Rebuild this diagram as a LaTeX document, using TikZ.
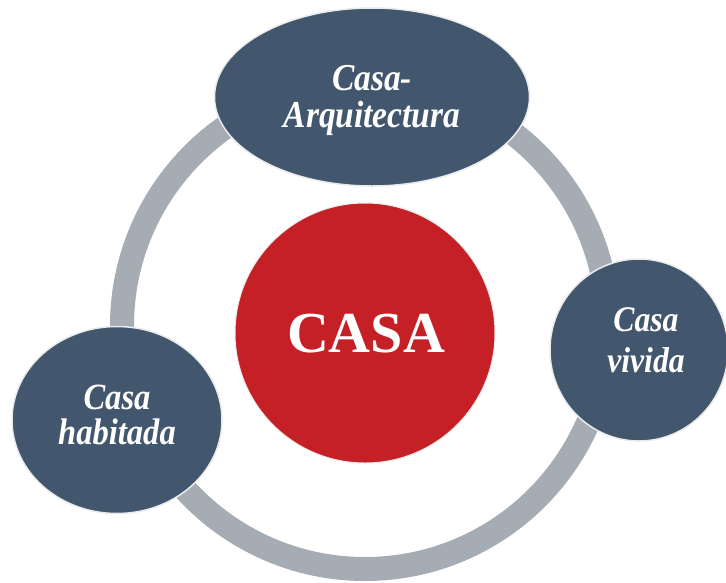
\documentclass[tikz,border=0pt]{standalone}
\usepackage{fontspec}
\setmainfont{Liberation Serif}
\newfontfamily\labfont[FakeStretch=0.88]{Liberation Serif}
\usetikzlibrary{shapes.geometric}
\definecolor{slate}{RGB}{66,87,110}
\definecolor{casared}{RGB}{196,32,38}
\definecolor{ringgrey}{RGB}{165,172,180}
\tikzset{
  satellite/.style={ellipse, fill=slate, draw=white!92!black, line width=1.5pt, inner sep=0pt},
  centre/.style={circle, fill=casared, draw=white!92!black, line width=1pt, inner sep=0pt},
  labeltext/.style={text=white, align=center, font=\labfont\bfseries\itshape},
  ringline/.style={draw=ringgrey, line width=24pt}
}
\begin{document}
\begin{tikzpicture}[x=1pt,y=-1pt]
\useasboundingbox (0,0) rectangle (726,582);
\fill[white] (0,0) rectangle (726,582);
% ring
\coordinate (ringc) at (365,326);
\draw[ringline] (ringc) circle[radius=243];
% centre
\node[centre, minimum size=260pt] (casa) at (365,333) {};
\node[text=white, font=\bfseries\fontsize{58}{60}\selectfont, anchor=base] (casaT) at (366,352) {CASA};
% satellites
\node[satellite, minimum width=315pt, minimum height=178pt] (arq) at (372,97) {};
\node[labeltext, font=\labfont\bfseries\itshape\fontsize{38}{37}\selectfont] (arqT) at (372,100) {Casa-\\Arquitectura};
\node[satellite, minimum width=178pt, minimum height=182pt] (viv) at (639,350) {};
\node[labeltext, font=\labfont\bfseries\itshape\fontsize{36}{41}\selectfont] (vivT) at (646,340) {Casa\\vivida};
\node[satellite, minimum width=210pt, minimum height=187pt] (hab) at (117,420) {};
\node[labeltext, font=\labfont\bfseries\itshape\fontsize{37}{35}\selectfont] (habT) at (117,415) {Casa\\habitada};
\end{tikzpicture}
\end{document}
